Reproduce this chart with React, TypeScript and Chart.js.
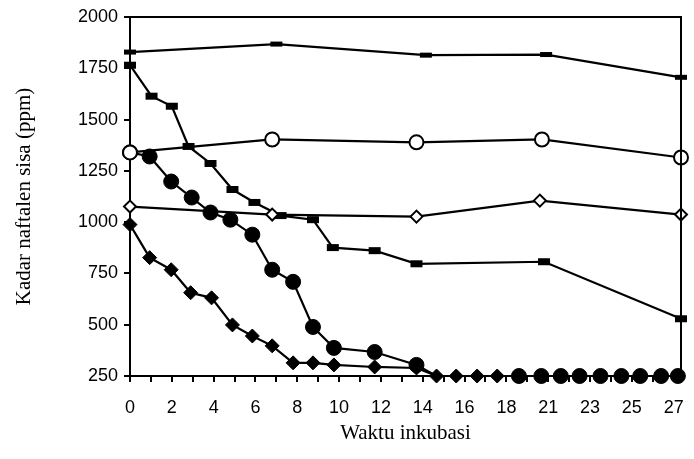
import React, { useEffect, useRef } from "react";
import { Chart, registerables } from "chart.js";

Chart.register(...registerables);

// X tick label positions (axis units) and their printed labels
const tickPositions = [0, 2, 4, 6, 8, 10, 12, 14, 16, 18, 20, 22, 24, 26];
const tickLabels = ["0", "2", "4", "6", "8", "10", "12", "14", "16", "18", "21", "23", "25", "27"];

// Series (x in axis units, y in ppm)
const topX = [0, 7.0, 14.15, 19.9, 26.35];
const topY = [1829, 1868, 1814, 1817, 1706];

const openCircleX = [0, 6.8, 13.7, 19.7, 26.35];
const openCircleY = [1340, 1403, 1389, 1403, 1315];

const openDiamondX = [0, 6.8, 13.7, 19.6, 26.35];
const openDiamondY = [1076, 1037, 1027, 1105, 1037];

const squareX = [0, 1.03, 2.0, 2.8, 3.85, 4.9, 5.95, 7.2, 8.75, 9.7, 11.7, 13.7, 19.8, 26.35];
const squareY = [1765, 1614, 1565, 1369, 1286, 1159, 1096, 1032, 1012, 876, 861, 797, 807, 529];

const filledCircleX = [0, 0.94, 1.97, 2.95, 3.85, 4.8, 5.85, 6.8, 7.8, 8.75, 9.75, 11.7, 13.7,
  14.66, 15.6, 16.6, 17.56, 18.6, 19.67, 20.6, 21.5, 22.5, 23.5, 24.4, 25.4, 26.2];
const filledCircleY = [1340, 1320, 1198, 1120, 1047, 1012, 939, 768, 709, 489, 387, 367, 304,
  250, 250, 250, 250, 250, 250, 250, 250, 250, 250, 250, 250, 250];

const filledDiamondX = [0, 0.94, 1.97, 2.9, 3.9, 4.9, 5.85, 6.8, 7.8, 8.75, 9.75, 11.7, 13.7,
  14.66, 15.6, 16.6, 17.56, 18.6, 19.67, 20.6, 21.5, 22.5, 23.5, 24.4, 25.4, 26.2];
const filledDiamondY = [988, 827, 768, 656, 631, 499, 445, 397, 314, 314, 304, 294, 289,
  250, 250, 250, 250, 250, 250, 250, 250, 250, 250, 250, 250, 250];

const yTicks = [250, 500, 750, 1000, 1250, 1500, 1750, 2000];

const pts = (xs: number[], ys: number[]) => xs.map((x, i) => ({ x, y: ys[i] }));

const framePlugin = {
  id: "frame",
  afterDatasetsDraw(chart: any) {
    const { ctx, chartArea } = chart;
    ctx.save();
    ctx.strokeStyle = "#000";
    ctx.lineWidth = 2;
    ctx.beginPath();
    ctx.moveTo(chartArea.left, chartArea.top);
    ctx.lineTo(chartArea.right, chartArea.top);
    ctx.lineTo(chartArea.right, chartArea.bottom);
    ctx.stroke();
    ctx.restore();
  },
};

export default function App() {
  const ref = useRef<HTMLCanvasElement>(null);
  useEffect(() => {
    document.body.style.margin = "0";
    const common = {
      showLine: true,
      borderColor: "#000",
      borderWidth: 2.2,
      pointBorderColor: "#000",
      tension: 0,
      clip: false as any,
    };
    const circleRadius = filledCircleX.map((x) => (x > 14 && x < 18 ? 0 : 7.5));
    const chart = new Chart(ref.current!, {
      type: "scatter",
      data: {
        datasets: [
          { ...common, order: 0, data: pts(openCircleX, openCircleY), pointStyle: "circle", pointRadius: 7, pointBackgroundColor: "#fff", pointBorderWidth: 2 },
          { ...common, order: 1, data: pts(openDiamondX, openDiamondY), pointStyle: "rectRot", pointRadius: 6, pointBackgroundColor: "#fff", pointBorderWidth: 2 },
          { ...common, order: 2, data: pts(topX, topY), pointStyle: "line", pointRadius: 6, pointBackgroundColor: "#000", pointBorderWidth: 5 },
          { ...common, order: 3, data: pts(squareX, squareY), pointStyle: "line", pointRadius: 6, pointBackgroundColor: "#000", pointBorderWidth: 7 },
          { ...common, order: 4, data: pts(filledCircleX, filledCircleY), pointStyle: "circle", pointRadius: circleRadius as any, pointBackgroundColor: "#000", pointBorderWidth: 1 },
          { ...common, order: 5, data: pts(filledDiamondX, filledDiamondY), pointStyle: "rectRot", pointRadius: 7, pointBackgroundColor: "#000", pointBorderWidth: 1 },
        ],
      },
      options: {
        responsive: false,
        animation: false,
        events: [],
        layout: { padding: { top: 17, right: 2, left: 0, bottom: 0 } },
        plugins: { legend: { display: false }, tooltip: { enabled: false } },
        scales: {
          x: {
            type: "linear",
            min: 0,
            max: 26.35,
            border: { display: true, color: "#000", width: 2 },
            grid: { display: true, drawOnChartArea: false, drawTicks: true, tickLength: 6, color: "#000", lineWidth: 2 },
            ticks: {
              stepSize: 1,
              includeBounds: false,
              autoSkip: false,
              maxRotation: 0,
              padding: 15,
              color: "#000",
              font: { family: "'Liberation Sans', Arial, sans-serif", size: 18 },
              callback: (v: any) => {
                const i = tickPositions.indexOf(Number(v));
                return i >= 0 ? tickLabels[i] : "";
              },
            },
            title: {
              display: true,
              text: "Waktu inkubasi",
              color: "#000",
              font: { family: "'Liberation Serif', 'Times New Roman', serif", size: 21 },
              padding: { top: 0, bottom: 13 },
            },
            afterFit: (s: any) => {
              s.height = 83;
              s.paddingLeft = 0;
              s.paddingRight = 0;
            },
          },
          y: {
            type: "linear",
            min: 250,
            max: 2000,
            afterBuildTicks: (s: any) => {
              s.ticks = yTicks.map((v) => ({ value: v }));
            },
            border: { display: true, color: "#000", width: 2 },
            grid: { display: true, drawOnChartArea: false, drawTicks: true, tickLength: 6, color: "#000", lineWidth: 2 },
            ticks: {
              padding: 6,
              color: "#000",
              font: { family: "'Liberation Sans', Arial, sans-serif", size: 18 },
              callback: (v: any) => String(v),
            },
            title: {
              display: true,
              text: "Kadar naftalen sisa (ppm)",
              color: "#000",
              font: { family: "'Liberation Serif', 'Times New Roman', serif", size: 21 },
              padding: { top: 12, bottom: 0 },
            },
            afterFit: (s: any) => {
              s.width = 130;
              s.paddingTop = 0;
              s.paddingBottom = 0;
            },
          },
        },
      },
      plugins: [framePlugin],
    });
    return () => chart.destroy();
  }, []);
  return <canvas ref={ref} width={694} height={459} style={{ display: "block" }} />;
}
